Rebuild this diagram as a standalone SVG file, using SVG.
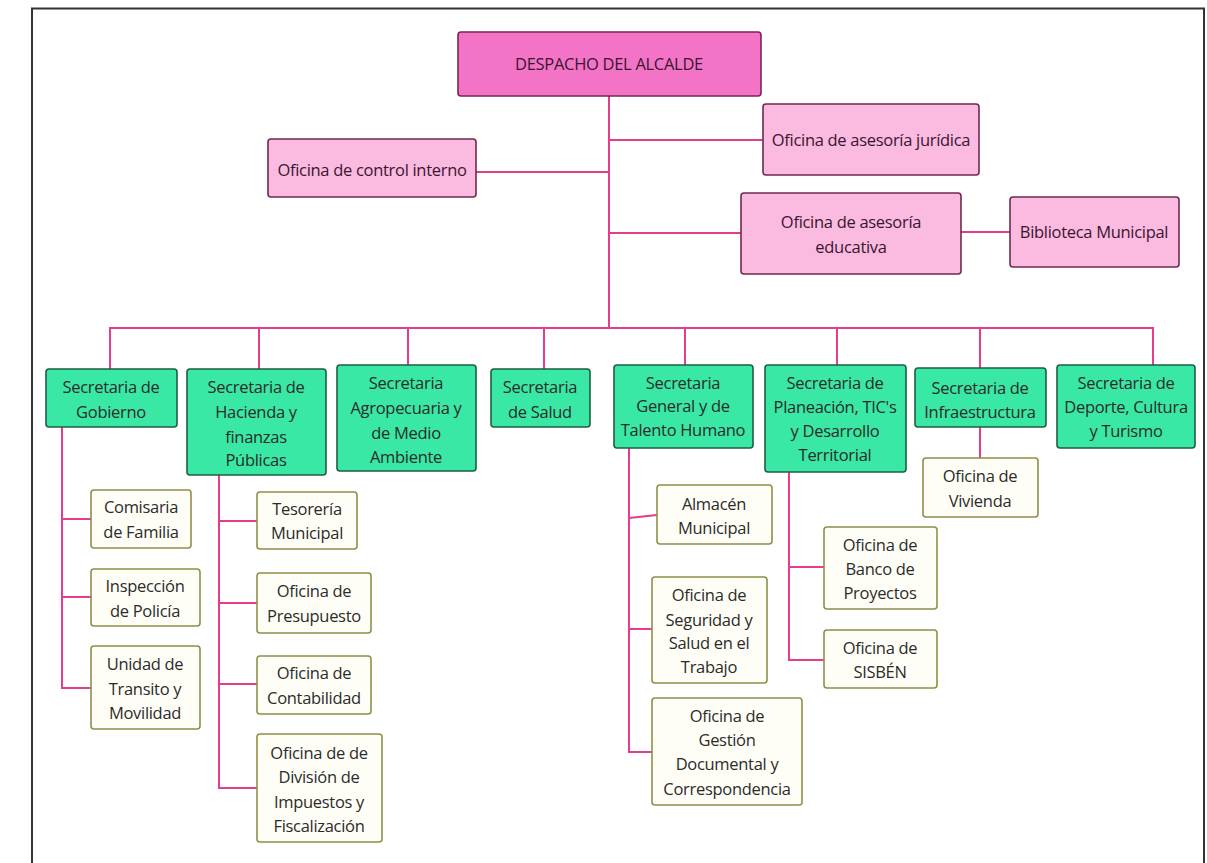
<svg xmlns="http://www.w3.org/2000/svg" width="1207" height="863" viewBox="0 0 1207 863">
<style>
text{font-family:"Open Sans","Noto Sans","DejaVu Sans",sans-serif;font-size:16.5px;fill:#2b2b2b;text-anchor:middle;letter-spacing:-0.3px}
.top rect{fill:#f374c6;stroke:#7a2555;stroke-width:1.6}
.pink rect{fill:#fbbadf;stroke:#6e2b4c;stroke-width:1.6}
.pink text,.top text{fill:#3a1530}
.sec rect{fill:#38e8a4;stroke:#1d5e44;stroke-width:1.6}
.sub rect{fill:#fffef6;stroke:#8f8f4a;stroke-width:1.6}
#connectors path{fill:none;stroke:#e63c8e;stroke-width:2}
</style>
<rect x="0" y="0" width="1207" height="863" fill="#ffffff"/>
<rect x="32" y="8.5" width="1172" height="870" fill="none" stroke="#333" stroke-width="2"/>

<g id="connectors">
<path d="M609 96 V328"/>
<path d="M609 140 H763"/>
<path d="M476 172 H609"/>
<path d="M609 233 H741"/>
<path d="M961 232 H1010"/>
<path d="M110 369 V328 H1153 V365"/>
<path d="M259 328 V369"/>
<path d="M408 328 V365"/>
<path d="M544 328 V369"/>
<path d="M685 328 V365"/>
<path d="M837 328 V365"/>
<path d="M980 328 V368"/>
<path d="M62 427 V688 H91"/>
<path d="M62 519 H91"/>
<path d="M62 597 H91"/>
<path d="M219 475 V788 H257"/>
<path d="M219 521 H257"/>
<path d="M219 603 H257"/>
<path d="M219 684 H257"/>
<path d="M629 448 V752 H652"/>
<path d="M629 518 L657 515"/>
<path d="M629 629 H652"/>
<path d="M789 472 V660 H824"/>
<path d="M789 567 H824"/>
<path d="M980 427 V458"/>
</g>

<g id="despacho" class="top"><rect x="458" y="32" width="303" height="64" rx="3"/><text x="609" y="70">DESPACHO DEL ALCALDE</text></g>
<g id="juridica" class="pink"><rect x="763" y="104" width="216" height="71" rx="3"/><text x="871" y="146">Oficina de asesoría jurídica</text></g>
<g id="control" class="pink"><rect x="268" y="139" width="208" height="58" rx="3"/><text x="372" y="176">Oficina de control interno</text></g>
<g id="educativa" class="pink"><rect x="741" y="193" width="220" height="81" rx="3"/><text x="851" y="228">Oficina de asesoría</text><text x="851" y="253">educativa</text></g>
<g id="biblioteca" class="pink"><rect x="1010" y="197" width="169" height="70" rx="3"/><text x="1094" y="238">Biblioteca Municipal</text></g>

<g id="gobierno" class="sec"><rect x="46" y="369" width="131" height="58" rx="3"/><text x="111" y="393">Secretaria de</text><text x="111" y="418">Gobierno</text></g>
<g id="hacienda" class="sec"><rect x="187" y="369" width="139" height="106" rx="3"/><text x="256" y="393">Secretaria de</text><text x="256" y="418">Hacienda y</text><text x="256" y="443">finanzas</text><text x="256" y="466">Públicas</text></g>
<g id="agro" class="sec"><rect x="337" y="365" width="139" height="106" rx="3"/><text x="406" y="389">Secretaria</text><text x="406" y="414">Agropecuaria y</text><text x="406" y="439">de Medio</text><text x="406" y="463">Ambiente</text></g>
<g id="salud" class="sec"><rect x="491" y="369" width="99" height="58" rx="3"/><text x="540" y="393">Secretaria</text><text x="540" y="418">de Salud</text></g>
<g id="general" class="sec"><rect x="614" y="365" width="139" height="83" rx="3"/><text x="683" y="389">Secretaria</text><text x="683" y="412">General y de</text><text x="683" y="436">Talento Humano</text></g>
<g id="planeacion" class="sec"><rect x="765" y="365" width="141" height="107" rx="3"/><text x="835" y="389">Secretaria de</text><text x="835" y="413">Planeación, TIC's</text><text x="835" y="437">y Desarrollo</text><text x="835" y="461">Territorial</text></g>
<g id="infra" class="sec"><rect x="915" y="368" width="131" height="59" rx="3"/><text x="980" y="394">Secretaria de</text><text x="980" y="418">Infraestructura</text></g>
<g id="deporte" class="sec"><rect x="1057" y="365" width="138" height="83" rx="3"/><text x="1126" y="389">Secretaria de</text><text x="1126" y="413">Deporte, Cultura</text><text x="1126" y="437">y Turismo</text></g>

<g id="comisaria" class="sub"><rect x="91" y="490" width="100" height="58" rx="3"/><text x="141" y="513">Comisaria</text><text x="141" y="538">de Familia</text></g>
<g id="inspeccion" class="sub"><rect x="91" y="569" width="109" height="57" rx="3"/><text x="145" y="592">Inspección</text><text x="145" y="617">de Policía</text></g>
<g id="unidad" class="sub"><rect x="91" y="646" width="109" height="83" rx="3"/><text x="145" y="670">Unidad de</text><text x="145" y="695">Transito y</text><text x="145" y="719">Movilidad</text></g>

<g id="tesoreria" class="sub"><rect x="257" y="492" width="100" height="57" rx="3"/><text x="307" y="515">Tesorería</text><text x="307" y="539">Municipal</text></g>
<g id="presupuesto" class="sub"><rect x="257" y="573" width="114" height="60" rx="3"/><text x="314" y="597">Oficina de</text><text x="314" y="622">Presupuesto</text></g>
<g id="contabilidad" class="sub"><rect x="257" y="656" width="114" height="58" rx="3"/><text x="314" y="679">Oficina de</text><text x="314" y="704">Contabilidad</text></g>
<g id="division" class="sub"><rect x="257" y="734" width="125" height="108" rx="3"/><text x="319" y="759">Oficina de de</text><text x="319" y="783">División de</text><text x="319" y="808">Impuestos y</text><text x="319" y="832">Fiscalización</text></g>

<g id="almacen" class="sub"><rect x="657" y="485" width="115" height="59" rx="3"/><text x="714" y="510">Almacén</text><text x="714" y="534">Municipal</text></g>
<g id="seguridad" class="sub"><rect x="652" y="577" width="115" height="106" rx="3"/><text x="709" y="601">Oficina de</text><text x="709" y="626">Seguridad y</text><text x="709" y="649">Salud en el</text><text x="709" y="673">Trabajo</text></g>
<g id="gestion" class="sub"><rect x="652" y="698" width="150" height="107" rx="3"/><text x="727" y="722">Oficina de</text><text x="727" y="746">Gestión</text><text x="727" y="770">Documental y</text><text x="727" y="795">Correspondencia</text></g>

<g id="banco" class="sub"><rect x="824" y="527" width="113" height="82" rx="3"/><text x="880" y="551">Oficina de</text><text x="880" y="575">Banco de</text><text x="880" y="599">Proyectos</text></g>
<g id="sisben" class="sub"><rect x="824" y="630" width="113" height="58" rx="3"/><text x="880" y="654">Oficina de</text><text x="880" y="678">SISBÉN</text></g>

<g id="vivienda" class="sub"><rect x="923" y="458" width="115" height="59" rx="3"/><text x="980" y="482">Oficina de</text><text x="980" y="507">Vivienda</text></g>
</svg>
